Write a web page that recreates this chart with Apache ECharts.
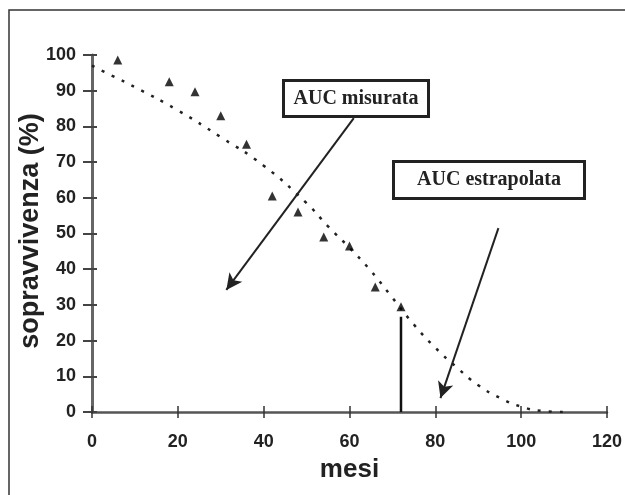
<!DOCTYPE html>
<html>
<head>
<meta charset="utf-8">
<script src="https://cdn.jsdelivr.net/npm/echarts@6/dist/echarts.min.js"></script>
<style>
  html, body { margin: 0; padding: 0; background: #fff; }
  #main { width: 625px; height: 495px; }
</style>
</head>
<body>
<div id="main"></div>
<script>
// osservati (triangoli)
var mesiOss = [6, 18, 24, 30, 36, 42, 48, 54, 60, 66, 72];
var soprOss = [98.6, 92.5, 89.7, 83, 75, 60.5, 56, 49, 46.5, 35, 29.5];

// curva stimata (punteggiata)
var mesiFit = [0, 5, 10, 20, 30, 40, 50, 55, 60, 65, 70, 75, 80, 85, 90, 95, 100, 105, 110];
var soprFit = [97, 94, 91, 84.5, 77, 69, 58.5, 52, 46, 39.5, 32, 24.5, 18, 12.5, 7.5, 4, 1.5, 0.3, 0];

// linea verticale a 72 mesi
var taglio = [[72, 0], [72, 26.7]];

// frecce [da, a]
var frecciaMisurata = [[61, 82.3], [31.3, 34.2]];
var frecciaEstrap = [[94.7, 51.5], [81.2, 3.9]];

var xTicks = [0, 20, 40, 60, 80, 100, 120];
var yTicks = [0, 10, 20, 30, 40, 50, 60, 70, 80, 90, 100];

var myChart = echarts.init(document.getElementById('main'));

function toPairs(xs, ys) {
    var out = [];
    for (var i = 0; i < xs.length; i++) {
        out.push([xs[i], ys[i]]);
    }
    return out;
}

var labelFont = '"Liberation Sans", Arial, sans-serif';
var boxFont = 'bold 20px "Liberation Serif", "Times New Roman", serif';

option = {
    animation: false,
    backgroundColor: '#fff',
    grid: { left: 92, right: 16, top: 55, bottom: 83 },
    xAxis: [{
        type: 'value',
        min: xTicks[0],
        max: xTicks[xTicks.length - 1],
        interval: 20,
        name: 'mesi',
        nameLocation: 'middle',
        nameGap: 45,
        nameTextStyle: { fontSize: 26, fontWeight: 'bold', color: '#222', fontFamily: labelFont },
        axisLine: { lineStyle: { color: '#555', width: 2.5 } },
        axisTick: { length: 6, lineStyle: { color: '#333', width: 1.5 } },
        axisLabel: { fontSize: 18, fontWeight: 'bold', color: '#222', margin: 21, fontFamily: labelFont },
        splitLine: { show: false }
    }, {
        type: 'value',
        position: 'bottom',
        min: xTicks[0],
        max: xTicks[xTicks.length - 1],
        interval: 20,
        axisLine: { show: false },
        axisTick: { inside: true, length: 6, lineStyle: { color: '#333', width: 1.5 } },
        axisLabel: { show: false },
        splitLine: { show: false }
    }],
    yAxis: [{
        type: 'value',
        min: yTicks[0],
        max: yTicks[yTicks.length - 1],
        interval: 10,
        axisLine: { show: true, lineStyle: { color: '#666', width: 3 } },
        axisTick: { show: true, length: 9, lineStyle: { color: '#444', width: 2 } },
        axisLabel: { fontSize: 18, fontWeight: 'bold', color: '#222', margin: 16, fontFamily: labelFont },
        splitLine: { show: false }
    }, {
        type: 'value',
        position: 'left',
        min: yTicks[0],
        max: yTicks[yTicks.length - 1],
        interval: 10,
        axisLine: { show: false },
        axisTick: { show: true, inside: true, length: 5, lineStyle: { color: '#444', width: 2 } },
        axisLabel: { show: false },
        splitLine: { show: false }
    }],
    series: [{
        type: 'line',
        data: toPairs(mesiFit, soprFit),
        smooth: true,
        symbol: 'none',
        lineStyle: { color: '#222', width: 2.5, type: [3, 8] },
        z: 2
    }, {
        type: 'scatter',
        data: toPairs(mesiOss, soprOss),
        symbol: 'triangle',
        symbolSize: 9,
        itemStyle: { color: '#000' },
        z: 5
    }, {
        type: 'line',
        data: taglio,
        symbol: 'none',
        lineStyle: { color: '#111', width: 2.5 },
        z: 3
    }, {
        type: 'line',
        data: [],
        markLine: {
            silent: true,
            symbol: ['none', 'arrow'],
            symbolSize: [12, 16],
            label: { show: false },
            lineStyle: { color: '#222', width: 2, type: 'solid' },
            data: [
                [{ coord: frecciaMisurata[0] }, { coord: frecciaMisurata[1] }],
                [{ coord: frecciaEstrap[0] }, { coord: frecciaEstrap[1] }]
            ]
        }
    }],
    graphic: [{
        type: 'rect',
        shape: { x: 9, y: 10, width: 700, height: 520 },
        style: { fill: 'none', stroke: '#333', lineWidth: 1.5 },
        silent: true
    }, {
        type: 'text',
        x: 31,
        y: 231,
        rotation: Math.PI / 2,
        style: {
            text: 'sopravvivenza (%)',
            font: 'bold 27px "Liberation Sans", Arial, sans-serif',
            fill: '#222',
            align: 'center',
            verticalAlign: 'middle'
        }
    }, {
        type: 'group',
        left: 282,
        top: 79,
        children: [{
            type: 'rect',
            shape: { x: 0, y: 0, width: 145, height: 36 },
            style: { fill: '#fff', stroke: '#222', lineWidth: 3 }
        }, {
            type: 'text',
            x: 72.5,
            y: 18,
            style: {
                text: 'AUC misurata',
                font: boxFont,
                fill: '#222',
                align: 'center',
                verticalAlign: 'middle'
            }
        }]
    }, {
        type: 'group',
        left: 392,
        top: 160,
        children: [{
            type: 'rect',
            shape: { x: 0, y: 0, width: 191, height: 37 },
            style: { fill: '#fff', stroke: '#222', lineWidth: 3 }
        }, {
            type: 'text',
            x: 95.5,
            y: 18.5,
            style: {
                text: 'AUC estrapolata',
                font: boxFont,
                fill: '#222',
                align: 'center',
                verticalAlign: 'middle'
            }
        }]
    }]
};
myChart.setOption(option);
</script>
</body>
</html>
